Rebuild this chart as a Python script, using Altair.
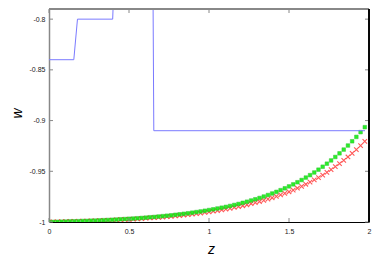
import altair as alt
import pandas as pd

# sample positions along z (76 points, step 1/38)
z_vals = [i / 38 for i in range(76)]

# green squares (w)
w_green = [
    -1.0000, -0.9999, -0.9998, -0.9997, -0.9996, -0.9994, -0.9993, -0.9992, -0.9990, -0.9989,
    -0.9987, -0.9986, -0.9984, -0.9982, -0.9980, -0.9978, -0.9976, -0.9973, -0.9971, -0.9968,
    -0.9966, -0.9963, -0.9960, -0.9957, -0.9953, -0.9950, -0.9946, -0.9942, -0.9938, -0.9934,
    -0.9929, -0.9924, -0.9919, -0.9914, -0.9908, -0.9902, -0.9896, -0.9889, -0.9882, -0.9875,
    -0.9867, -0.9859, -0.9851, -0.9842, -0.9832, -0.9822, -0.9811, -0.9800, -0.9788, -0.9776,
    -0.9763, -0.9749, -0.9734, -0.9719, -0.9703, -0.9686, -0.9668, -0.9649, -0.9629, -0.9608,
    -0.9586, -0.9562, -0.9538, -0.9512, -0.9484, -0.9455, -0.9425, -0.9393, -0.9359, -0.9323,
    -0.9286, -0.9246, -0.9204, -0.9161, -0.9114, -0.9065,
]

# red crosses
w_red = [
    -1.0000, -0.9999, -0.9998, -0.9997, -0.9996, -0.9995, -0.9994, -0.9993, -0.9992, -0.9991,
    -0.9989, -0.9988, -0.9986, -0.9985, -0.9983, -0.9981, -0.9979, -0.9977, -0.9975, -0.9973,
    -0.9971, -0.9968, -0.9966, -0.9963, -0.9960, -0.9957, -0.9954, -0.9951, -0.9947, -0.9944,
    -0.9940, -0.9936, -0.9931, -0.9927, -0.9922, -0.9917, -0.9912, -0.9906, -0.9900, -0.9894,
    -0.9887, -0.9880, -0.9873, -0.9865, -0.9857, -0.9849, -0.9840, -0.9830, -0.9820, -0.9809,
    -0.9798, -0.9787, -0.9774, -0.9761, -0.9747, -0.9733, -0.9718, -0.9702, -0.9685, -0.9667,
    -0.9648, -0.9628, -0.9607, -0.9585, -0.9562, -0.9537, -0.9511, -0.9484, -0.9455, -0.9425,
    -0.9393, -0.9359, -0.9324, -0.9286, -0.9247, -0.9205,
]

# blue step line
z_blue = [0.0, 0.155, 0.178, 0.398, 0.405, 0.650, 0.655, 1.975]
w_blue = [-0.84, -0.84, -0.80, -0.80, -0.77, -0.77, -0.91, -0.91]

x_ticks = [0, 0.5, 1, 1.5, 2]
y_ticks = [-1, -0.95, -0.9, -0.85, -0.8]

W, H = 320, 213
FONT = "Liberation Sans"

df_g = pd.DataFrame({"z": z_vals, "w": w_green})
df_r = pd.DataFrame({"z": z_vals, "w": w_red})
df_b = pd.DataFrame({"z": z_blue, "w": w_blue})
df_xt = pd.DataFrame({"z": x_ticks})
df_yt = pd.DataFrame({"w": y_ticks})

xs = alt.Scale(domain=[0, 2], nice=False, zero=False)
ys = alt.Scale(domain=[-1, -0.79], nice=False, zero=False)

ax_x = alt.Axis(
    values=x_ticks, ticks=False, grid=False, labelPadding=5,
    labelExpr="'' + datum.value", labelFlush=False,
    domainColor="#000000", domainWidth=1,
    labelFont=FONT, labelFontSize=7, labelColor="#222222",
    title="z", titleFont=FONT, titleFontSize=14, titleFontStyle="italic",
    titleFontWeight="normal", titleColor="#000000",
    titleX=162, titleY=31, titleBaseline="alphabetic", titleAnchor="middle",
)
ax_y = alt.Axis(
    values=y_ticks, ticks=False, grid=False, labelPadding=4,
    labelExpr="'' + datum.value", labelFlush=False,
    domainColor="#888888", domainWidth=1.5,
    labelFont=FONT, labelFontSize=7, labelColor="#222222",
    title="w", titleFont=FONT, titleFontSize=14, titleFontStyle="italic",
    titleFontWeight="normal", titleColor="#000000",
    titleX=-32, titleY=104, titleBaseline="middle", titleAngle=-90,
)

X = alt.X("z:Q", scale=xs, axis=ax_x)
Y = alt.Y("w:Q", scale=ys, axis=ax_y)

red = alt.Chart(df_r).mark_point(
    shape="M-1,-1L1,1M-1,1L1,-1", filled=False, stroke="#ff3a3a",
    strokeWidth=1.1, size=20, opacity=0.85, clip=True,
).encode(x=X, y=Y)

green = alt.Chart(df_g).mark_point(
    shape="square", filled=True, fill="#11ee11", stroke="#22bb22",
    strokeWidth=0.5, size=13, opacity=0.9, clip=True,
).encode(x=X, y=Y)

blue = alt.Chart(df_b).mark_line(
    color="#7a7aff", strokeWidth=1, clip=True, interpolate="linear",
).encode(x=X, y=Y)

tick_col = "#888888"
left_t = alt.Chart(df_yt).mark_rule(color=tick_col, strokeWidth=1).encode(
    y=Y, x=alt.value(0), x2=alt.value(4))
right_t = alt.Chart(df_yt).mark_rule(color=tick_col, strokeWidth=1).encode(
    y=Y, x=alt.value(W - 4), x2=alt.value(W))
bottom_t = alt.Chart(df_xt).mark_rule(color=tick_col, strokeWidth=1).encode(
    x=X, y=alt.value(H), y2=alt.value(H - 4))
top_t = alt.Chart(df_xt).mark_rule(color=tick_col, strokeWidth=1).encode(
    x=X, y=alt.value(0), y2=alt.value(4))

top_border = alt.Chart(df_xt).mark_rule(color="#888888", strokeWidth=1.5).encode(
    x=alt.value(0), x2=alt.value(W), y=alt.value(0))
right_border = alt.Chart(df_xt).mark_rule(color="#000000", strokeWidth=1).encode(
    x=alt.value(W), y=alt.value(0), y2=alt.value(H))

chart = alt.layer(
    red, green, blue, left_t, right_t, bottom_t, top_t, top_border, right_border
).properties(
    width=W, height=H,
    autosize=alt.AutoSizeParams(type="none"),
    padding={"left": 41, "top": 1, "right": 5, "bottom": 37},
    background="white",
).configure_view(stroke=None)

chart.save("out.html", embed_options={"renderer": "svg", "actions": False})
